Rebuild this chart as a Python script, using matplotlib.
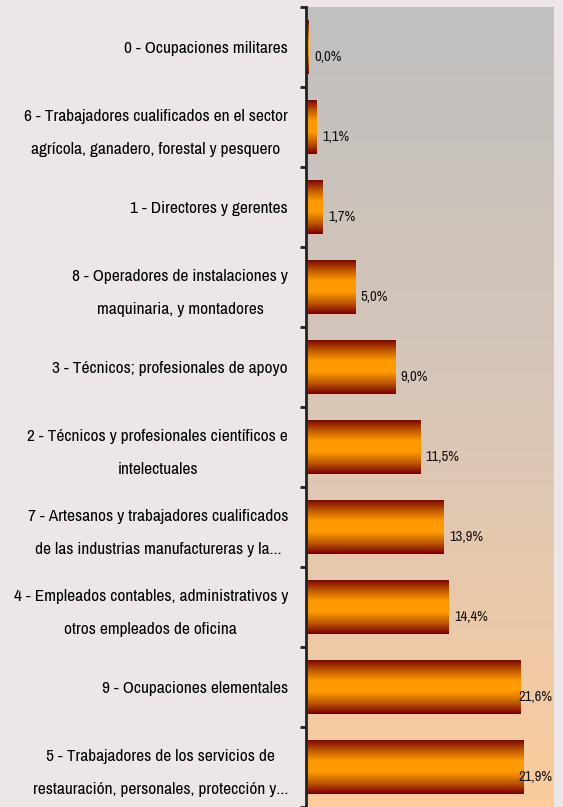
import numpy as np
import matplotlib.pyplot as plt
from matplotlib.colors import LinearSegmentedColormap
from matplotlib.transforms import ScaledTranslation

plt.rcParams['font.family'] = ['Archivo Narrow', 'DejaVu Sans']

categories = ["0 - Ocupaciones militares",
              "6 - Trabajadores cualificados en el sector\nagrícola, ganadero, forestal y pesquero",
              "1 - Directores y gerentes",
              "8 - Operadores de instalaciones y\nmaquinaria, y montadores",
              "3 - Técnicos; profesionales de apoyo",
              "2 - Técnicos y profesionales científicos e\nintelectuales",
              "7 - Artesanos y trabajadores cualificados\nde las industrias manufactureras y la...",
              "4 - Empleados contables, administrativos y\notros empleados de oficina",
              "9 - Ocupaciones elementales",
              "5 - Trabajadores de los servicios de\nrestauración, personales, protección y..."]
values = [0.3, 1.1, 1.7, 5.0, 9.0, 11.5, 13.9, 14.4, 21.6, 21.9]
labels = ["0,0%", "1,1%", "1,7%", "5,0%", "9,0%", "11,5%", "13,9%", "14,4%", "21,6%", "21,9%"]

fig = plt.figure(figsize=(5.63, 8.07), dpi=100)
fig.patch.set_facecolor('#EDE6E6')
ax = fig.add_axes([306/563, 0, 248/563, 1 - 7/807])

n = len(values)

# background gradient
bg = LinearSegmentedColormap.from_list('bg', ['#C0C0C0', '#D8C6B8', '#FCCC9C'])
ax.imshow(np.linspace(0, 1, 256).reshape(-1, 1), cmap=bg, aspect='auto',
          extent=[0, 1, 0, 1], transform=ax.transAxes, origin='upper', zorder=0)

# bars with cylinder shading
shade = LinearSegmentedColormap.from_list('bar', ['#7A0000', '#C05A00', '#FF9A00', '#FF9A00', '#C05A00', '#7A0000'])
grad = np.linspace(0, 1, 64).reshape(-1, 1)
h = 0.68
bars = ax.barh(range(n), values, height=h, color='none', edgecolor='none', zorder=2)
for i, b in enumerate(bars):
    im = ax.imshow(grad, cmap=shade, aspect='auto', origin='upper',
                   extent=[0, values[i], i + h / 2, i - h / 2], zorder=2)
    im.set_clip_path(b)

ax.set_xlim(0, 25)
ax.set_ylim(n - 0.5, -0.5)

for i, v in enumerate(values):
    x = min(v + 0.5, 21.4)
    ax.annotate(labels[i], (x, i), xytext=(0, -7.5), textcoords='offset points',
                ha='left', va='center', fontsize=10.5, color='#111111', zorder=3)

ax.set_yticks(range(n))
ax.set_yticklabels(categories, fontsize=12.5, multialignment='center', linespacing=2.45)
ax.tick_params(axis='y', which='major', length=0, pad=13)
ax.set_yticks(np.arange(-0.5, n, 1), minor=True)
ax.tick_params(axis='y', which='minor', length=4, width=2, direction='out', color='#222222')
ax.set_xticks([])
for s in ['top', 'right', 'bottom']:
    ax.spines[s].set_visible(False)
ax.spines['left'].set_linewidth(2)
ax.spines['left'].set_color('#222222')

# two-line labels sit a bit higher
for lbl in ax.get_yticklabels():
    if '\n' in lbl.get_text():
        lbl.set_transform(lbl.get_transform() + ScaledTranslation(0, 3/72, fig.dpi_scale_trans))

fig.savefig('out.png', dpi=100, facecolor=fig.get_facecolor())
